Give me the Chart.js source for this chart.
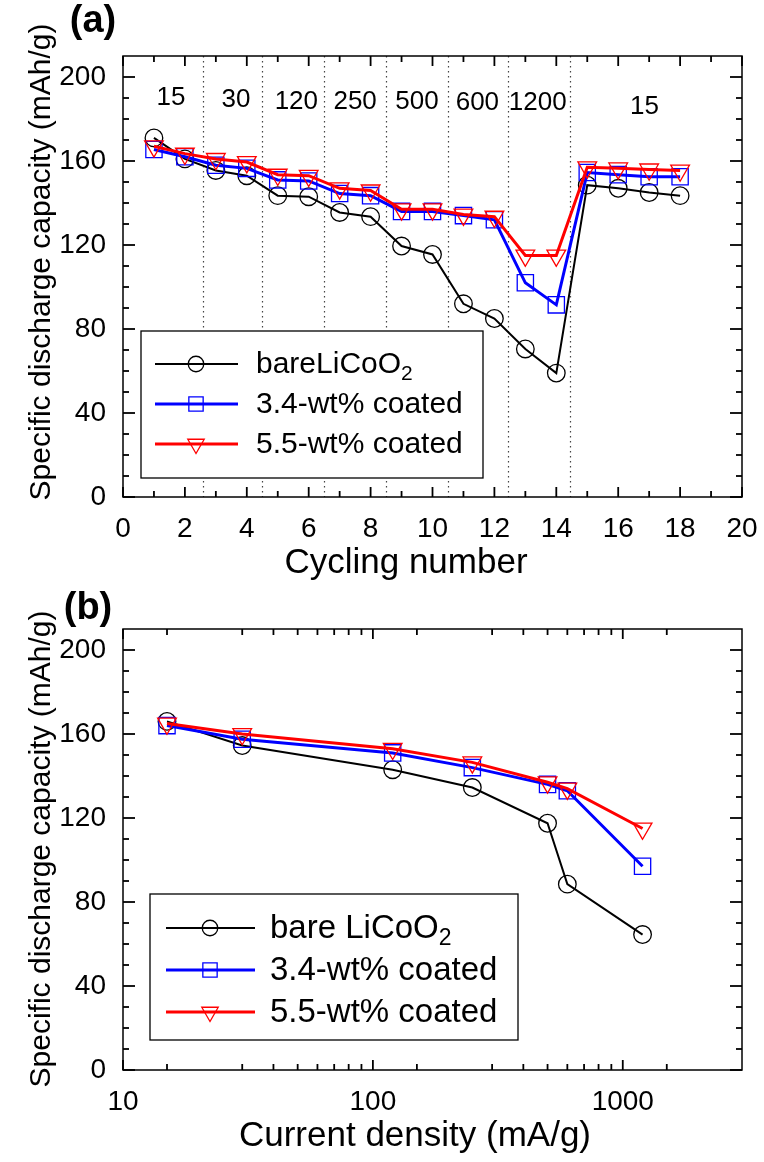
<!DOCTYPE html>
<html>
<head>
<meta charset="utf-8">
<script src="https://cdn.jsdelivr.net/npm/chart.js@4.4.0/dist/chart.umd.min.js"></script>
<style>
  html, body { margin: 0; padding: 0; background: #fff; }
  canvas { display: block; }
</style>
</head>
<body>
<canvas id="chartA" width="764" height="581"></canvas>
<canvas id="chartB" width="764" height="581"></canvas>
<script>
// (a) capacity vs cycle number
const cycles = [1, 2, 3, 4, 5, 6, 7, 8, 9, 10, 11, 12, 13, 14, 15, 16, 17, 18];
const bareA = [171, 161, 155.5, 153, 143.5, 143, 135.5, 133.5, 119.5, 115.5, 92, 85, 70.5, 59, 148.5, 147, 145, 143.5];
const coated34A = [165.5, 162, 158, 156.5, 151, 150.5, 144.5, 143.5, 136, 136, 134, 132, 102, 91.5, 154.5, 153.5, 152.5, 152.5];
const coated55A = [167, 163.5, 161, 159.5, 153.5, 153, 147, 146, 137, 137, 134.5, 133.5, 115, 115, 157, 156.5, 156, 155.5];
const seriesNamesA = ['bareLiCoO₂', '3.4-wt% coated', '5.5-wt% coated'];

// current density steps written above the curves
const rateLabels = ['15', '30', '120', '250', '500', '600', '1200', '15'];
const rateLabelX = [1.55, 3.65, 5.6, 7.5, 9.5, 11.45, 13.4, 16.85];
const rateLabelY = [190, 189, 188, 188, 188, 187.5, 187.5, 186];
const rateDividers = [2.6, 4.5, 6.5, 8.5, 10.5, 12.45, 14.45];

// (b) capacity vs current density
const currents = [15, 30, 120, 250, 500, 600, 1200];
const bareB = [166, 154.5, 143, 134.5, 117.5, 88.5, 64.5];
const coated34B = [164, 157.5, 151, 144, 136, 133, 97];
const coated55B = [165, 160, 153, 146.5, 137, 134, 115];
const seriesNamesB = ['bare LiCoO₂', '3.4-wt% coated', '5.5-wt% coated'];

// ticks
const yTicks = [0, 40, 80, 120, 160, 200];
const yMinor = [10, 20, 30, 50, 60, 70, 90, 100, 110, 130, 140, 150, 170, 180, 190];
const xTicksA = [0, 2, 4, 6, 8, 10, 12, 14, 16, 18, 20];
const xMinorA = [1, 3, 5, 7, 9, 11, 13, 15, 17, 19];
const xTicksB = [10, 100, 1000];
const xMinorB = [15, 30, 40, 50, 60, 70, 80, 90, 150, 300, 400, 500, 600, 700, 800, 900, 1500];

const FONT = '"Liberation Sans", Arial, Helvetica, sans-serif';

const styles = [
  { color: '#000000', width: 2, point: 'circle', radius: 8.8, rotation: 0, order: 2 },
  { color: '#0000ff', width: 3, point: 'rect', radius: 11.5, rotation: 0, order: 1 },
  { color: '#ff0000', width: 3, point: 'triangle', radius: 10.8, rotation: 180, order: 0 }
];

function makeDatasets(xs, series, names) {
  return series.map((ys, i) => ({
    label: names[i],
    data: xs.map((x, j) => ({ x: x, y: ys[j] })),
    borderColor: styles[i].color,
    borderWidth: styles[i].width,
    pointStyle: styles[i].point,
    pointRadius: styles[i].radius,
    pointRotation: styles[i].rotation,
    pointBorderColor: styles[i].color,
    pointBackgroundColor: 'rgba(0,0,0,0)',
    pointBorderWidth: 1.3,
    tension: 0,
    fill: false,
    order: styles[i].order
  }));
}

// frame, inward ticks and dotted dividers
const framePlugin = {
  id: 'frame',
  beforeDatasetsDraw(chart, args, o) {
    if (!o.dividers) return;
    const { ctx, chartArea: a, scales: { x } } = chart;
    ctx.save();
    ctx.strokeStyle = '#444';
    ctx.lineWidth = 1.2;
    ctx.setLineDash([1.5, 3.5]);
    o.dividers.forEach(v => {
      const px = Math.round(x.getPixelForValue(v)) + 0.5;
      ctx.beginPath(); ctx.moveTo(px, a.top); ctx.lineTo(px, a.bottom); ctx.stroke();
    });
    ctx.restore();
  },
  afterDatasetsDraw(chart, args, o) {
    const { ctx, chartArea: a, scales: { x, y } } = chart;
    ctx.save();
    ctx.strokeStyle = '#000';
    ctx.lineWidth = 1.5;
    ctx.strokeRect(a.left, a.top, a.right - a.left, a.bottom - a.top);
    ctx.lineWidth = 1.8;
    const seg = (x1, y1, x2, y2) => { ctx.beginPath(); ctx.moveTo(x1, y1); ctx.lineTo(x2, y2); ctx.stroke(); };
    const xt = (v, len) => { const p = x.getPixelForValue(v); seg(p, a.bottom, p, a.bottom - len); seg(p, a.top, p, a.top + len); };
    const yt = (v, len) => { const p = y.getPixelForValue(v); seg(a.left, p, a.left + len, p); seg(a.right, p, a.right - len, p); };
    o.xMajor.forEach(v => xt(v, 10));
    o.xMinor.forEach(v => xt(v, 6));
    o.yMajor.forEach(v => yt(v, 12));
    o.yMinor.forEach(v => yt(v, 6));
    ctx.restore();
  }
};

function drawLabel(ctx, text, x, y, size) {
  // handles the subscript 2 in LiCoO2
  const parts = text.split('₂');
  ctx.font = size + 'px ' + FONT;
  ctx.fillText(parts[0], x, y);
  if (parts.length > 1) {
    const w = ctx.measureText(parts[0]).width;
    ctx.font = Math.round(size * 0.7) + 'px ' + FONT;
    ctx.fillText('2', x + w, y + size * 0.3);
  }
}

const legendPlugin = {
  id: 'boxLegend',
  afterDraw(chart, args, o) {
    const { ctx } = chart;
    const b = o.box;
    ctx.save();
    ctx.fillStyle = '#fff';
    ctx.fillRect(b[0], b[1], b[2] - b[0], b[3] - b[1]);
    ctx.strokeStyle = '#000';
    ctx.lineWidth = 1.3;
    ctx.strokeRect(b[0], b[1], b[2] - b[0], b[3] - b[1]);
    chart.data.datasets.forEach((ds, i) => {
      const ry = o.rows[i];
      ctx.strokeStyle = ds.borderColor;
      ctx.lineWidth = ds.borderWidth;
      ctx.beginPath(); ctx.moveTo(o.lineX[0], ry); ctx.lineTo(o.lineX[1], ry); ctx.stroke();
      ctx.fillStyle = 'rgba(0,0,0,0)';
      ctx.strokeStyle = ds.pointBorderColor;
      ctx.lineWidth = ds.pointBorderWidth;
      Chart.helpers.drawPoint(ctx, {
        pointStyle: ds.pointStyle, rotation: ds.pointRotation,
        radius: ds.pointRadius * 0.88, borderWidth: ds.pointBorderWidth
      }, o.markerX, ry);
      ctx.fillStyle = '#000';
      ctx.textAlign = 'left';
      ctx.textBaseline = 'middle';
      drawLabel(ctx, ds.label, o.textX, ry + 1, o.size);
    });
    ctx.restore();
  }
};

const annotPlugin = {
  id: 'annot',
  afterDraw(chart, args, o) {
    const { ctx, scales: { x, y } } = chart;
    ctx.save();
    ctx.fillStyle = '#000';
    ctx.textAlign = 'center';
    ctx.textBaseline = 'middle';
    ctx.font = 'bold 38px ' + FONT;
    ctx.fillText(o.panel[0], o.panel[1], o.panel[2]);
    ctx.font = '35px ' + FONT;
    ctx.fillText(o.xTitle[0], o.xTitle[1], o.xTitle[2]);
    ctx.save();
    ctx.translate(o.yTitle[1], o.yTitle[2]);
    ctx.rotate(-Math.PI / 2);
    ctx.font = '30px ' + FONT;
    ctx.fillText(o.yTitle[0], 0, 0);
    ctx.restore();
    if (o.rates) {
      ctx.font = '26px ' + FONT;
      rateLabels.forEach((t, i) => {
        ctx.fillText(t, x.getPixelForValue(rateLabelX[i]), y.getPixelForValue(rateLabelY[i]));
      });
    }
    ctx.restore();
  }
};

function noPad(s) {
  s.paddingLeft = 0; s.paddingRight = 0; s.paddingTop = 0; s.paddingBottom = 0;
}

function baseY() {
  return {
    min: 0, max: 210,
    grid: { display: false, drawTicks: false },
    border: { display: false },
    afterBuildTicks: s => { s.ticks = yTicks.map(v => ({ value: v })); },
    afterFit: s => { s.width = 123; noPad(s); },
    ticks: { padding: 17, color: '#000', font: { family: FONT, size: 28 } }
  };
}

new Chart(document.getElementById('chartA'), {
  type: 'line',
  data: { datasets: makeDatasets(cycles, [bareA, coated34A, coated55A], seriesNamesA) },
  plugins: [framePlugin, legendPlugin, annotPlugin],
  options: {
    responsive: false,
    animation: false,
    devicePixelRatio: 1,
    layout: { padding: { top: 56, right: 22, left: 0, bottom: 0 } },
    scales: {
      x: {
        type: 'linear', min: 0, max: 20,
        grid: { display: false, drawTicks: false },
        border: { display: false },
        afterBuildTicks: s => { s.ticks = xTicksA.map(v => ({ value: v })); },
        afterFit: s => { s.height = 84; noPad(s); },
        ticks: { padding: 15, maxRotation: 0, autoSkip: false, color: '#000', font: { family: FONT, size: 28 } }
      },
      y: baseY()
    },
    plugins: {
      legend: { display: false },
      tooltip: { enabled: false },
      frame: { dividers: rateDividers, xMajor: xTicksA, xMinor: xMinorA, yMajor: yTicks, yMinor: yMinor },
      boxLegend: { box: [141, 331, 483, 478], rows: [364, 404, 444], lineX: [155, 238], markerX: 196, textX: 256, size: 30 },
      annot: {
        panel: ['(a)', 93, 22],
        xTitle: ['Cycling number', 406, 563],
        yTitle: ['Specific discharge capacity (mAh/g)', 42, 262],
        rates: true
      }
    }
  }
});

new Chart(document.getElementById('chartB'), {
  type: 'line',
  data: { datasets: makeDatasets(currents, [bareB, coated34B, coated55B], seriesNamesB) },
  plugins: [framePlugin, legendPlugin, annotPlugin],
  options: {
    responsive: false,
    animation: false,
    devicePixelRatio: 1,
    layout: { padding: { top: 48, right: 22, left: 0, bottom: 0 } },
    scales: {
      x: {
        type: 'logarithmic', min: 10, max: 3000,
        grid: { display: false, drawTicks: false },
        border: { display: false },
        afterBuildTicks: s => { s.ticks = xTicksB.map(v => ({ value: v })); },
        afterFit: s => { s.height = 92; noPad(s); },
        ticks: { padding: 15, maxRotation: 0, autoSkip: false, color: '#000', font: { family: FONT, size: 28 },
                 callback: v => String(v) }
      },
      y: baseY()
    },
    plugins: {
      legend: { display: false },
      tooltip: { enabled: false },
      frame: { xMajor: xTicksB, xMinor: xMinorB, yMajor: yTicks, yMinor: yMinor },
      boxLegend: { box: [150, 313, 518, 459], rows: [347, 389, 431], lineX: [166, 255], markerX: 210, textX: 270, size: 33 },
      annot: {
        panel: ['(b)', 88, 28],
        xTitle: ['Current density (mA/g)', 415, 555],
        yTitle: ['Specific discharge capacity (mAh/g)', 42, 268],
        rates: false
      }
    }
  }
});
</script>
</body>
</html>
